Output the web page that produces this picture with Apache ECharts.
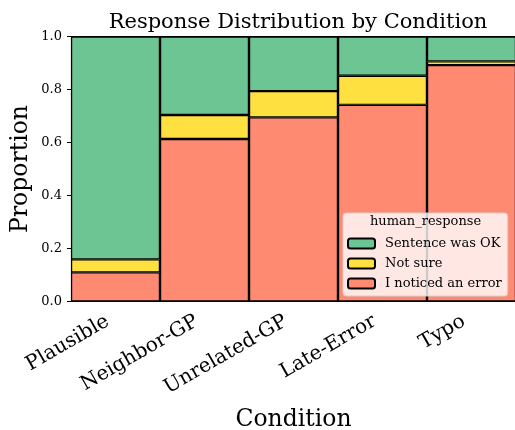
<!DOCTYPE html>
<html>
<head>
<meta charset="utf-8">
<script src="https://cdn.jsdelivr.net/npm/echarts@6/dist/echarts.min.js"></script>
<style>
  html, body { margin: 0; padding: 0; background: #fff; }
  #chart { width: 515px; height: 430px; }
</style>
</head>
<body>
<div id="chart"></div>
<script>
// conditions on the x axis
const conditions = ['Plausible', 'Neighbor-GP', 'Unrelated-GP', 'Late-Error', 'Typo']
// proportions per response (stacked bottom -> top)
const noticedError = [0.110, 0.613, 0.695, 0.742, 0.892]
const notSure = [0.049, 0.091, 0.099, 0.110, 0.014]
const sentenceOk = [0.841, 0.296, 0.206, 0.148, 0.094]
const yTicks = [0, 0.2, 0.4, 0.6, 0.8, 1.0]

const font = 'DejaVu Serif'
const chart = echarts.init(document.getElementById('chart'))

const barSeries = (name, data, color) => ({
  name,
  type: 'bar',
  stack: 'total',
  data,
  barCategoryGap: 0,
  itemStyle: { color, borderColor: '#000', borderWidth: 1.2 },
  emphasis: { disabled: true }
})

const options = {
  animation: false,
  title: {
    text: 'Response Distribution by Condition',
    left: 293,
    textAlign: 'center',
    top: 7,
    textStyle: { fontFamily: font, fontSize: 21, fontWeight: 'normal', color: '#000' }
  },
  grid: { left: 71, right: -1, top: 36.5, bottom: 128.5, containLabel: false, outerBoundsMode: 'none' },
  legend: {
    orient: 'vertical',
    left: 343,
    top: 213,
    padding: [24, 6, 6, 4],
    itemGap: 7,
    itemWidth: 27,
    itemHeight: 10,
    backgroundColor: 'rgba(255,255,255,0.8)',
    borderColor: '#d0d0d0',
    borderWidth: 1,
    borderRadius: 3,
    data: ['Sentence was OK', 'Not sure', 'I noticed an error'],
    textStyle: { fontFamily: font, fontSize: 13, color: '#000', padding: [0, 0, 0, 5] }
  },
  graphic: [{
    type: 'text',
    z: 100,
    left: 370,
    top: 215,
    style: { text: 'human_response', fontFamily: font, fontSize: 13, fill: '#000' }
  }],
  xAxis: [{
    type: 'category',
    data: conditions,
    name: 'Condition',
    nameLocation: 'middle',
    nameGap: 106,
    nameTextStyle: { fontFamily: font, fontSize: 23.5, color: '#000' },
    axisLine: { lineStyle: { color: '#000', width: 1.2 } },
    axisTick: { alignWithLabel: true, length: 4, lineStyle: { color: '#000' } },
    axisLabel: { rotate: 30, fontFamily: font, fontSize: 20, color: '#000', margin: 14, padding: [0, 9, 0, 0] }
  }, {
    type: 'category',
    position: 'top',
    data: conditions,
    axisLine: { lineStyle: { color: '#000', width: 1.2 } },
    axisTick: { show: false },
    axisLabel: { show: false }
  }],
  yAxis: {
    type: 'value',
    min: yTicks[0],
    max: yTicks[yTicks.length - 1],
    interval: 0.2,
    name: 'Proportion',
    nameLocation: 'middle',
    nameGap: 38,
    nameMoveOverlap: false,
    nameTextStyle: { fontFamily: font, fontSize: 23.5, color: '#000' },
    splitLine: { show: false },
    axisLine: { show: true, lineStyle: { color: '#000', width: 1.2 } },
    axisTick: { show: true, length: 4, lineStyle: { color: '#000' } },
    axisLabel: { fontFamily: font, fontSize: 13, color: '#000', margin: 9, formatter: (v) => v.toFixed(1) }
  },
  series: [
    barSeries('I noticed an error', noticedError, '#fe8a72'),
    barSeries('Not sure', notSure, '#fee040'),
    barSeries('Sentence was OK', sentenceOk, '#6cc593')
  ]
}

chart.setOption(options)
</script>
</body>
</html>
